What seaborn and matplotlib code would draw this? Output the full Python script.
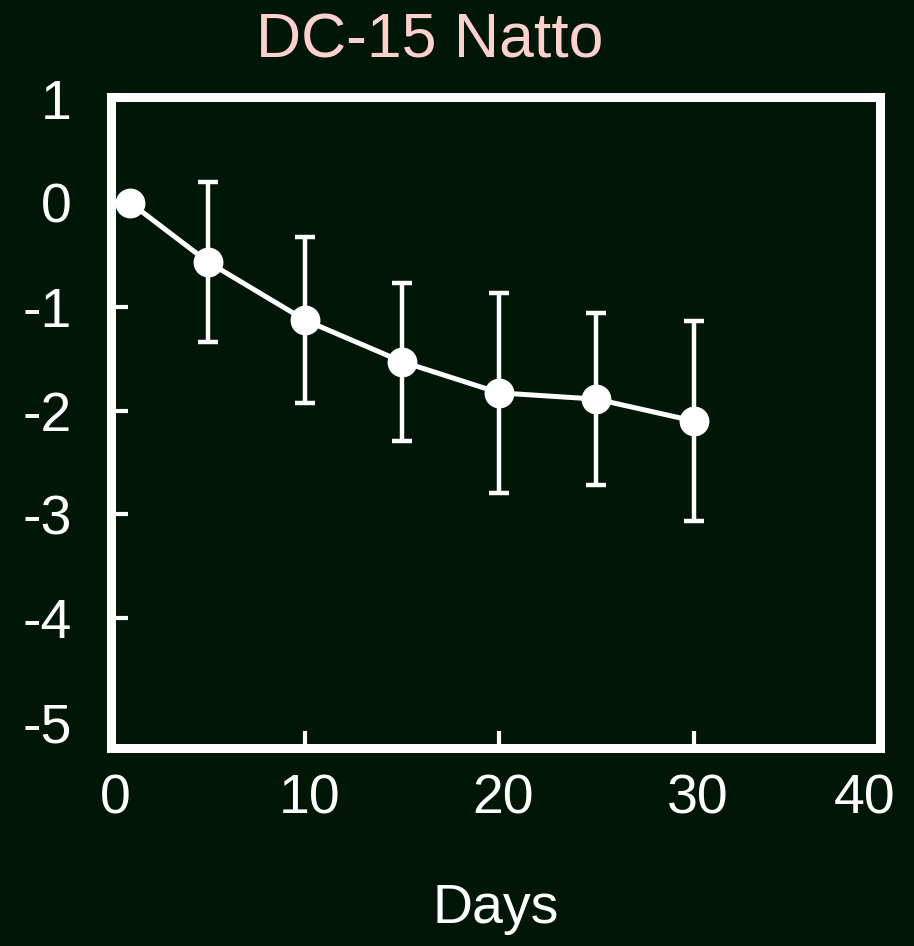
import matplotlib
matplotlib.use("Agg")
import matplotlib.pyplot as plt
import matplotlib.transforms as mtransforms
import seaborn as sns
import pandas as pd

days = [1, 5, 10, 15, 20, 25, 30]
change = [0.0, -0.57, -1.13, -1.53, -1.83, -1.89, -2.10]
err = [0.0, 0.77, 0.80, 0.76, 0.96, 0.83, 0.96]
title = "DC-15 Natto"
xlabel = "Days"
yticks = [1, 0, -1, -2, -3, -4, -5]
xticks = [0, 10, 20, 30]

bg = "#001606"
sns.set_theme(style="ticks")
plt.rcParams["font.family"] = ["Liberation Sans", "DejaVu Sans"]

df = pd.DataFrame({"day": days, "change": change, "err": err})

fig = plt.figure(figsize=(9.14, 9.46), dpi=100, facecolor=bg)
ax = fig.add_axes([0.1214, 0.2093, 0.8414, 0.6882])
ax.set_facecolor(bg)

eb = df[df["err"] > 0]
ax.errorbar(eb["day"], eb["change"], yerr=eb["err"], fmt="none", ecolor="white",
            elinewidth=3.2, capsize=7, capthick=3.2, zorder=2)
sns.lineplot(data=df, x="day", y="change", ax=ax, color="white", linewidth=3.6,
             marker="o", markersize=21.5, markeredgewidth=0, zorder=3)

ax.set_xlim(0, 39.6)
ax.set_ylim(-5.25, 1.02)
ax.set_xticks(xticks + [38.6])
ax.set_xticklabels([str(v) for v in xticks] + ["40"])
ax.set_yticks(yticks)
ax.set_yticklabels([str(v) for v in yticks])

for sp in ax.spines.values():
    sp.set_visible(True)
    sp.set_color("white")
    sp.set_linewidth(6.5)

ax.tick_params(axis="both", direction="in", colors="white", length=12, width=3,
               labelsize=40)
ax.tick_params(axis="y", pad=28)
ax.tick_params(axis="x", pad=18)
for i, t in enumerate(ax.yaxis.get_major_ticks()):
    if yticks[i] in (1, -5):
        t.tick1line.set_visible(False)
xt = ax.xaxis.get_major_ticks()
xt[0].tick1line.set_visible(False)
xt[-1].tick1line.set_visible(False)
shift = mtransforms.ScaledTranslation(4 / 100, 0, fig.dpi_scale_trans)
for lab in ax.get_xticklabels():
    lab.set_transform(lab.get_transform() + shift)

ax.set_xlabel(xlabel, color="white", fontsize=40, labelpad=42)
ax.set_ylabel("")
fig.text(430 / 914, 1 - 41 / 946, title, color="#ffd0cc", fontsize=45,
         ha="center", va="center")

fig.savefig("out.png", dpi=100, facecolor=bg)
